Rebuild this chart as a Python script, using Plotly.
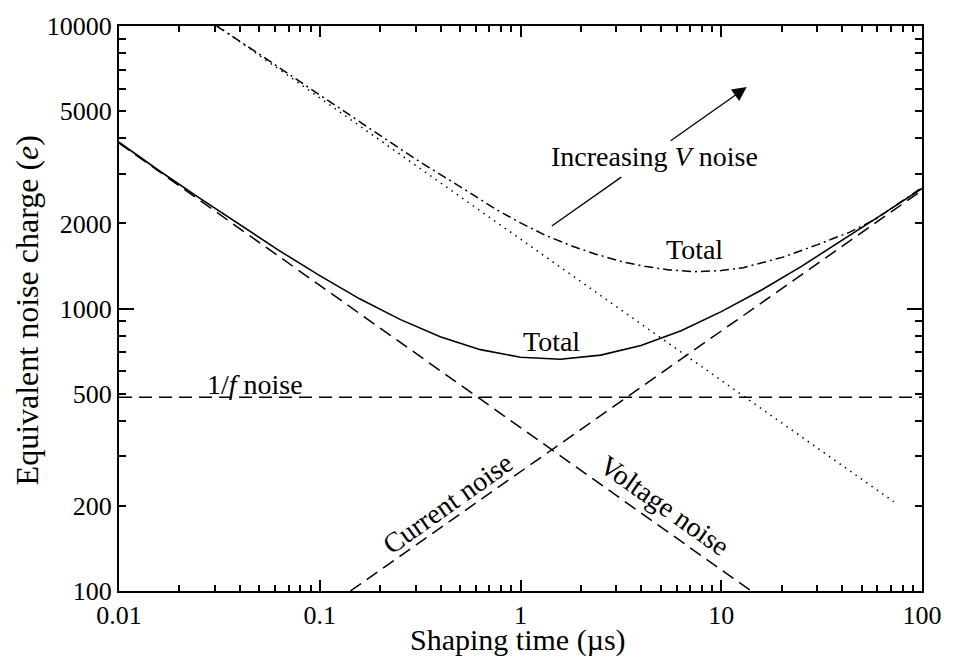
import plotly.graph_objects as go

# ---- data ----
time_total = [0.01, 0.0158, 0.0251, 0.0398, 0.0631, 0.1, 0.158, 0.251, 0.398, 0.631,
              1.0, 1.58, 2.51, 3.98, 6.31, 10, 15.8, 25.1, 39.8, 63.1, 100]
enc_total = [3880, 3080, 2465, 1980, 1600, 1307, 1082, 915, 794, 715,
             672, 661, 684, 740, 834, 975, 1160, 1410, 1735, 2150, 2660]

time_voltage = [0.01, 14.1]
enc_voltage = [3850, 100]

time_current = [0.142, 100]
enc_current = [100, 2620]

time_flicker = [0.01, 100]
enc_flicker = [485, 485]

time_voltage_hi = [0.031, 72.3]
enc_voltage_hi = [10000, 207]

time_total_hi = [0.0306, 0.05, 0.1, 0.2, 0.3, 0.5, 0.75, 1.0, 1.33, 1.8, 2.35, 3.2, 4.15,
                 5.5, 7.4, 10, 12.9, 20.3, 30, 43.4, 58.6, 100]
enc_total_hi = [10000, 7950, 5700, 4080, 3380, 2700, 2250, 2010, 1816, 1665, 1560, 1465, 1410,
                1370, 1350, 1362, 1395, 1520, 1680, 1860, 2070, 2680]

x_ticks = [0.01, 0.1, 1, 10, 100]
x_tick_text = ["0.01", "0.1", "1", "10", "100"]
y_ticks = [100, 200, 500, 1000, 2000, 5000, 10000]
y_tick_text = ["100", "200", "500", "1000", "2000", "5000", "10000"]
y_decades = [100, 1000, 10000]

# arrow (log10 coordinates of its pieces)
arrow_tail_low = [0.1485, 3.288]
arrow_head_low = [0.502, 3.465]
arrow_tail_up = [0.7405, 3.590]
arrow_tip = [1.127, 3.784]

minor_x = [m * 10 ** e for e in (-2, -1, 0, 1) for m in range(2, 10)]
minor_y = [m * 10 ** e for e in (2, 3) for m in range(2, 10)]

FONT = "Liberation Serif, Times New Roman, serif"
BLACK = "#000000"

fig = go.Figure()
fig.add_trace(go.Scatter(x=time_flicker, y=enc_flicker, mode="lines", yaxis="y2",
                         line=dict(color=BLACK, width=1.5, dash="13px,7px")))
fig.add_trace(go.Scatter(x=time_voltage, y=enc_voltage, mode="lines",
                         line=dict(color=BLACK, width=1.5, dash="13px,7px")))
fig.add_trace(go.Scatter(x=time_current, y=enc_current, mode="lines",
                         line=dict(color=BLACK, width=1.5, dash="13px,7px")))
fig.add_trace(go.Scatter(x=time_total, y=enc_total, mode="lines",
                         line=dict(color=BLACK, width=1.6)))
fig.add_trace(go.Scatter(x=time_voltage_hi, y=enc_voltage_hi, mode="lines",
                         line=dict(color=BLACK, width=1.5, dash="1.5px,5px")))
fig.add_trace(go.Scatter(x=time_total_hi, y=enc_total_hi, mode="lines",
                         line=dict(color=BLACK, width=1.5, dash="9px,4px,2px,4px")))

tickfont = dict(family=FONT, size=26, color=BLACK)
fig.update_layout(
    width=954, height=663,
    margin=dict(l=119, r=24, t=15, b=72),
    paper_bgcolor="white", plot_bgcolor="white",
    showlegend=False,
    font=dict(family=FONT, color=BLACK),
    xaxis=dict(type="log", range=[-2, 2], tickmode="array", tickvals=x_ticks,
               ticktext=x_tick_text, ticks="inside", ticklen=11, tickwidth=1.5,
               tickcolor=BLACK, showline=True, linewidth=2, linecolor=BLACK,
               mirror="ticks", showgrid=False, zeroline=False, tickfont=tickfont,
               minor=dict(tickmode="array", tickvals=minor_x, ticks="inside",
                          ticklen=6, tickwidth=1.5, tickcolor=BLACK, showgrid=False)),
    yaxis=dict(type="log", range=[2, 4], tickmode="array", tickvals=y_ticks,
               ticktext=y_tick_text, ticks="inside", ticklen=7, tickwidth=1.5,
               tickcolor=BLACK, showline=True, linewidth=2, linecolor=BLACK,
               mirror="ticks", showgrid=False, zeroline=False, tickfont=tickfont,
               minor=dict(tickmode="array", tickvals=minor_y, ticks="inside",
                          ticklen=7, tickwidth=1.5, tickcolor=BLACK, showgrid=False)),
    yaxis2=dict(type="log", range=[2, 4], overlaying="y", side="left", anchor="x",
                tickmode="array", tickvals=y_decades, showticklabels=False,
                ticks="inside", ticklen=15, tickwidth=1.5, tickcolor=BLACK,
                showline=False, mirror="ticks", showgrid=False, zeroline=False),
)

lab = dict(family=FONT, size=28, color=BLACK)
annotations = [
    dict(text="Shaping time (µs)", xref="paper", yref="paper", x=0.4963, y=-0.0875,
         xanchor="center", yanchor="middle", showarrow=False, borderpad=0,
         font=dict(family=FONT, size=30, color=BLACK)),
    dict(text="Equivalent noise charge (<i>e</i>)", xref="paper", yref="paper",
         x=-0.1134, y=0.4965, xanchor="center", yanchor="middle", textangle=-90,
         showarrow=False, font=dict(family=FONT, size=32, color=BLACK)),
    dict(text="Increasing <i>V</i> noise", xref="paper", yref="paper",
         x=(660 - 119) / 811, y=(591 - 148) / 576, xanchor="center", yanchor="middle",
         showarrow=False, font=lab),
    dict(text="Total", xref="paper", yref="paper",
         x=(700 - 119) / 811, y=(591 - 243) / 576, xanchor="center", yanchor="middle",
         showarrow=False, font=lab),
    dict(text="Total", xref="paper", yref="paper",
         x=(556 - 119) / 811, y=(591 - 337) / 576, xanchor="center", yanchor="middle",
         showarrow=False, font=lab),
    dict(text="1/<i>f</i> noise", xref="paper", yref="paper",
         x=(256.5 - 119) / 811, y=(591 - 380) / 576, xanchor="center", yanchor="middle",
         showarrow=False, font=lab),
    dict(text="Current noise", xref="paper", yref="paper",
         x=(451 - 119) / 811, y=(591 - 502) / 576, xanchor="center", yanchor="middle",
         textangle=-35.4, showarrow=False, font=lab),
    dict(text="Voltage noise", xref="paper", yref="paper",
         x=(670 - 119) / 811, y=(591 - 504) / 576, xanchor="center", yanchor="middle",
         textangle=35.4, showarrow=False, font=lab),
    dict(text="", x=arrow_head_low[0], y=arrow_head_low[1], xref="x", yref="y",
         ax=arrow_tail_low[0], ay=arrow_tail_low[1], axref="x", ayref="y",
         showarrow=True, arrowhead=0, arrowwidth=1.3, arrowcolor=BLACK),
    dict(text="", x=arrow_tip[0], y=arrow_tip[1], xref="x", yref="y",
         ax=arrow_tail_up[0], ay=arrow_tail_up[1], axref="x", ayref="y",
         showarrow=True, arrowhead=2, arrowsize=2.2, arrowwidth=1.3, arrowcolor=BLACK),
]
fig.update_layout(annotations=annotations)

fig.write_html("out.html")
